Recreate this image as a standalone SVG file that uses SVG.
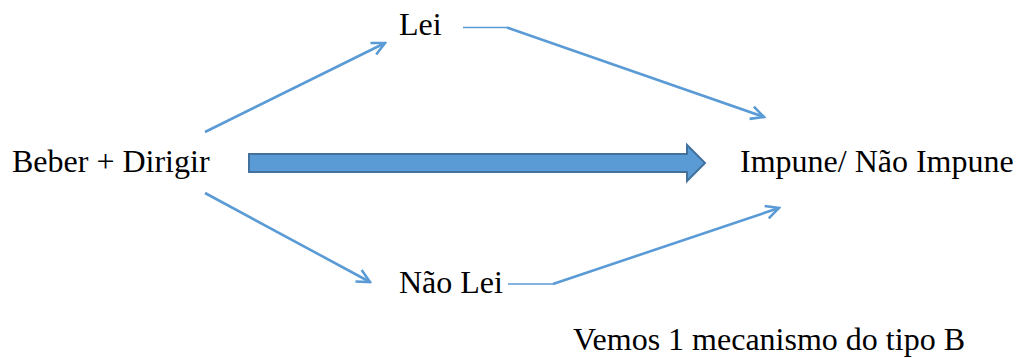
<svg xmlns="http://www.w3.org/2000/svg" width="1022" height="358" viewBox="0 0 1022 358">
<style>
text{font-family:"Liberation Serif","Times New Roman",serif;font-size:32px;fill:#000}
.c{fill:none;stroke:#5B9BD5;stroke-width:2.6;stroke-linejoin:miter}
.t{fill:none;stroke:#5B9BD5;stroke-width:1.3}
</style>
<defs>
<marker id="ah" viewBox="0 0 16 16" refX="14" refY="8" markerWidth="16" markerHeight="16" markerUnits="userSpaceOnUse" orient="auto">
<path d="M1,1.5 L14,8 L1,14.5" fill="none" stroke="#5B9BD5" stroke-width="2.6"/>
</marker>
</defs>
<rect width="1022" height="358" fill="#fff"/>
<g id="connectors">
<line class="c" x1="205" y1="132" x2="385" y2="43" marker-end="url(#ah)"/>
<line class="t" x1="463" y1="27.5" x2="507" y2="27.5"/>
<line class="c" x1="507" y1="27.5" x2="764" y2="117" marker-end="url(#ah)"/>
<line class="c" x1="205" y1="193" x2="370" y2="282" marker-end="url(#ah)"/>
<line class="t" x1="508" y1="284" x2="553" y2="284"/>
<line class="c" x1="553" y1="284" x2="779" y2="208" marker-end="url(#ah)"/>
<path id="bigarrow" d="M249,154 L687,154 L687,145 L705,163 L687,181 L687,172 L249,172 Z" fill="#5B9BD5" stroke="#41719C" stroke-width="2"/>
</g>
<g id="beber"><text x="12" y="172">Beber + Dirigir</text></g>
<g id="lei"><text x="399" y="35">Lei</text></g>
<g id="naolei"><text x="399" y="293">Não Lei</text></g>
<g id="impune"><text x="740" y="172">Impune/ Não Impune</text></g>
<g id="nota"><text x="573" y="350">Vemos 1 mecanismo do tipo B</text></g>
</svg>
